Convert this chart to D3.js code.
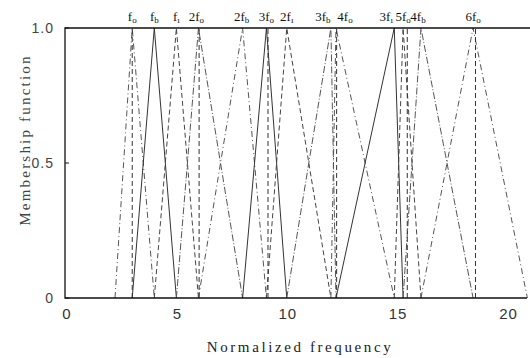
<!DOCTYPE html>
<html>
<head>
<meta charset="utf-8">
<script src="https://cdn.jsdelivr.net/npm/d3@7"></script>
<style>
  body { margin: 0; background: #fff; }
  svg { display: block; }
</style>
</head>
<body>
<div id="chart"></div>
<script>
// peaks of the triangular membership functions (normalized frequency)
const peakNames = ['f0', 'fb', 'f1', '2f0', '2fb', '3f0', '2f1', '3fb', '4f0', '3f1', '5f0', '4fb', '6f0'];
const peakValues = [3.0, 4.0, 5.0, 6.0, 8.0, 9.08, 10.0, 12.0, 12.23, 14.87, 15.27, 16.08, 18.44];
// outer feet of the first and last function
const firstFoot = 2.22;
const lastFoot = 20.9;
// dashed crisp markers at the f0 harmonics
const harmonicLines = [3.0, 6.03, 9.15, 12.26, 15.46, 18.55];
const xTicks = [0, 5, 10, 15, 20];
const yTicks = [0, 0.5, 1];

const width = 530, height = 358;
const svg = d3.select('#chart').append('svg')
  .attr('width', width)
  .attr('height', height);

const x = d3.scaleLinear().domain([0, 20]).range([66, 507.5]);
const y = d3.scaleLinear().domain([0, 1]).range([298, 28]);

// each triangle: feet at the neighbouring peaks
const triangles = peakValues.map((p, i) => ({
  name: peakNames[i],
  pts: [
    [i === 0 ? firstFoot : peakValues[i - 1], 0],
    [p, 1],
    [i === peakValues.length - 1 ? lastFoot : peakValues[i + 1], 0]
  ]
}));

// line styles cycle, the scan shows a mix of solid / dashed / dash-dot
const styles = [
  {dash: '6,3,1,3', color: '#555'},
  {dash: null, color: '#333'},
  {dash: '5,3', color: '#444'},
  {dash: '7,2,1,2', color: '#555'}
];

const line = d3.line().x(d => x(d[0])).y(d => y(d[1]));

svg.append('g').attr('class', 'triangles')
  .selectAll('path')
  .data(triangles)
  .enter().append('path')
  .attr('d', d => line(d.pts))
  .attr('fill', 'none')
  .attr('stroke', (d, i) => styles[i % styles.length].color)
  .attr('stroke-width', 1)
  .attr('stroke-dasharray', (d, i) => styles[i % styles.length].dash);

svg.append('g').attr('class', 'harmonics')
  .selectAll('line')
  .data(harmonicLines)
  .enter().append('line')
  .attr('x1', d => x(d)).attr('x2', d => x(d))
  .attr('y1', y(0)).attr('y2', y(1))
  .attr('stroke', '#333')
  .attr('stroke-width', 1)
  .attr('stroke-dasharray', '5,3');

// frame: left, top, bottom (no right edge)
const frame = svg.append('g').attr('class', 'frame')
  .attr('stroke', '#111').attr('stroke-width', 1.3).attr('fill', 'none');
frame.append('path')
  .attr('d', `M${width},${y(1)}H${x(0) - 1}V${y(0)}H${width - 3}`);

// y axis ticks and labels
svg.append('g').selectAll('line')
  .data(yTicks)
  .enter().append('line')
  .attr('x1', x(0) - 1).attr('x2', x(0) + 3)
  .attr('y1', d => y(d)).attr('y2', d => y(d))
  .attr('stroke', '#111');

svg.append('g').selectAll('text')
  .data(yTicks)
  .enter().append('text')
  .attr('x', 54)
  .attr('y', d => y(d) + 5)
  .attr('text-anchor', 'end')
  .style('font-family', 'Liberation Sans, Arial, sans-serif')
  .style('font-size', '14px')
  .style('letter-spacing', '1px')
  .style('fill', '#444')
  .text(d => d === 0 ? '0' : d3.format('.1f')(d));

// x axis labels
svg.append('g').selectAll('text')
  .data(xTicks)
  .enter().append('text')
  .attr('x', d => x(d) + 1)
  .attr('y', 319)
  .attr('text-anchor', 'middle')
  .style('font-family', 'Liberation Sans, Arial, sans-serif')
  .style('font-size', '15px')
  .style('letter-spacing', '1px')
  .style('fill', '#333')
  .text(d => d);

svg.append('text')
  .attr('x', 300)
  .attr('y', 352)
  .attr('text-anchor', 'middle')
  .style('font-family', 'Liberation Serif, Times New Roman, serif')
  .style('font-size', '15px')
  .style('letter-spacing', '2.6px')
  .style('fill', '#222')
  .text('Normalized frequency');

svg.append('text')
  .attr('transform', 'translate(30,140) rotate(-90)')
  .attr('text-anchor', 'middle')
  .style('font-family', 'Liberation Serif, Times New Roman, serif')
  .style('font-size', '15px')
  .style('letter-spacing', '2.2px')
  .style('fill', '#444')
  .text('Membership function');

// peak labels: small nudges where labels crowd
const labelNudge = [0, 0, 0, -2, -1, 0, 0, -8, 9, -8, 0, -3, 0];
const labels = svg.append('g').attr('class', 'peakLabels')
  .selectAll('text')
  .data(triangles)
  .enter().append('text')
  .attr('x', (d, i) => x(peakValues[i]) + labelNudge[i])
  .attr('y', 21)
  .attr('text-anchor', 'middle')
  .style('font-family', 'Liberation Serif, Times New Roman, serif')
  .style('font-size', '13px')
  .style('fill', '#111');

labels.each(function(d) {
  const m = d.name.match(/^(\d?)f(.)$/);
  const t = d3.select(this);
  t.append('tspan').text(m[1] + 'f');
  t.append('tspan')
    .attr('dy', 2)
    .style('font-size', '9px')
    .text(m[2] === '0' ? 'o' : m[2] === '1' ? '\u0131' : 'b');
});
</script>
</body>
</html>
